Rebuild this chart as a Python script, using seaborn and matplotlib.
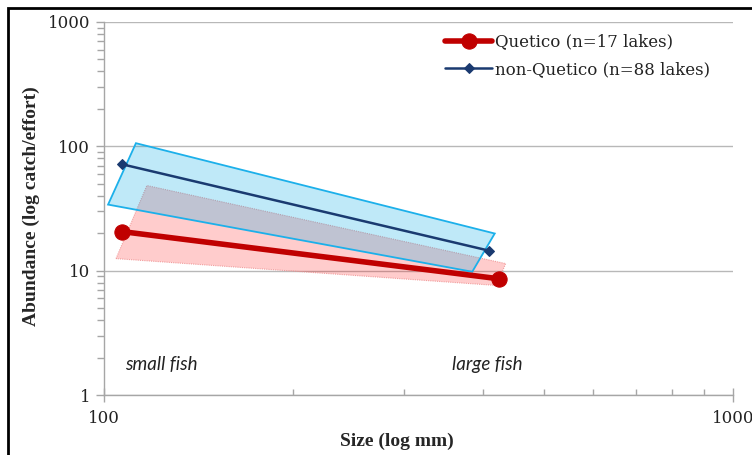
import numpy as np
import pandas as pd
import matplotlib
matplotlib.use("Agg")
import matplotlib.pyplot as plt
from matplotlib.patches import Polygon, Rectangle
from matplotlib.ticker import NullFormatter, LogLocator
import seaborn as sns

# ---- data ----
quetico_x = [107, 425]
quetico_y = [20.6, 8.6]
nonq_x = [107, 409]
nonq_y = [71.6, 14.5]

blue_band_x = [101.5, 112.4, 418, 385]
blue_band_y = [34, 106, 19.9, 9.8]
red_band_x = [104.5, 117, 435, 421]
red_band_y = [12.5, 48.4, 11.4, 7.6]

series_labels = ["Quetico (n=17 lakes)", "non-Quetico (n=88 lakes)"]
x_ticks = [100, 1000]
y_ticks = [1, 10, 100, 1000]

df = pd.DataFrame({
    "size": quetico_x + nonq_x,
    "abund": quetico_y + nonq_y,
    "group": [series_labels[0]] * 2 + [series_labels[1]] * 2,
})

sns.set_style("white")
serif = ["DejaVu Serif"]
plt.rcParams["font.family"] = serif

fig = plt.figure(figsize=(7.52, 4.55), dpi=100)
ax = fig.add_axes([104 / 752, 1 - 395 / 455, (733 - 104) / 752, (395 - 22) / 455])
ax.set_xscale("log")
ax.set_yscale("log")
ax.set_xlim(100, 1000)
ax.set_ylim(1, 1000)

# bands
ax.add_patch(Polygon(list(zip(red_band_x, red_band_y)), closed=True,
                     facecolor=(1, 0, 0, 0.2), edgecolor=(0.93, 0.55, 0.55, 0.8),
                     linewidth=0.8, linestyle=(0, (1, 1)), zorder=2))
ax.add_patch(Polygon(list(zip(blue_band_x, blue_band_y)), closed=True,
                     facecolor=(0.0, 0.67, 0.9, 0.25), edgecolor="#1cb0ea",
                     linewidth=1.3, zorder=3))

sns.lineplot(data=df[df.group == series_labels[0]], x="size", y="abund",
             color="#c00000", linewidth=4, marker="o", markersize=11,
             markeredgecolor="#c00000", ax=ax, label=series_labels[0], zorder=5)
sns.lineplot(data=df[df.group == series_labels[1]], x="size", y="abund",
             color="#1a3a70", linewidth=1.8, marker="D", markersize=5.5,
             markeredgecolor="#1a3a70", ax=ax, label=series_labels[1], zorder=6)

# grid & axes
ax.yaxis.grid(True, which="major", color="#b8b8b8", linewidth=1)
ax.xaxis.grid(False)
ax.set_axisbelow(True)
for s in ["top", "right"]:
    ax.spines[s].set_visible(False)
for s in ["left", "bottom"]:
    ax.spines[s].set_color("#a6a6a6")
    ax.spines[s].set_linewidth(1)

ax.set_xticks(x_ticks)
ax.set_xticklabels([str(v) for v in x_ticks])
ax.set_yticks(y_ticks)
ax.set_yticklabels([str(v) for v in y_ticks])
ax.xaxis.set_minor_locator(LogLocator(base=10, subs=np.arange(2, 10)))
ax.yaxis.set_minor_locator(LogLocator(base=10, subs=np.arange(2, 10)))
ax.xaxis.set_minor_formatter(NullFormatter())
ax.yaxis.set_minor_formatter(NullFormatter())
ax.tick_params(axis="y", which="major", direction="out", length=6, width=1,
               color="#a6a6a6", left=True, labelsize=12, pad=4, labelcolor="#222222")
ax.tick_params(axis="y", which="minor", direction="out", length=5, width=1,
               color="#a6a6a6", left=True)
ax.tick_params(axis="x", which="major", direction="inout", length=10, width=1,
               color="#a6a6a6", bottom=True, labelsize=12, pad=6, labelcolor="#222222")
ax.tick_params(axis="x", which="minor", direction="in", length=4, width=1,
               color="#a6a6a6", bottom=True)
ax.set_xlabel("")
ax.set_ylabel("")

# annotations
ax.text(108, 1.75, "small fish", style="italic", fontsize=13.5,
        family=["Lato", "DejaVu Sans"], va="center", ha="left", color="#222222")
ax.text(357, 1.75, "large fish", style="italic", fontsize=13.5,
        family=["Lato", "DejaVu Sans"], va="center", ha="left", color="#222222")

fig.text(397 / 752, 1 - 441 / 455, "Size (log mm)", ha="center", va="center",
         fontsize=14, fontweight="bold", family=["Liberation Serif", "DejaVu Serif"])
fig.text(31 / 752, 1 - 206 / 455, "Abundance (log catch/effort)", ha="center",
         va="center", rotation=90, fontsize=14, fontweight="bold",
         family=["Liberation Serif", "DejaVu Serif"])

leg = ax.legend(loc="upper right", bbox_to_anchor=(0.975, 0.987), frameon=False,
                borderaxespad=0, fontsize=12, handlelength=2.8, handletextpad=0.2,
                labelspacing=0.62)
for t in leg.get_texts():
    t.set_color("#222222")

# outer frame (left/top visible, right/bottom cut off)
fig.patches.append(Rectangle((8 / 752, -0.2), 1.2, 1 - 8 / 455 + 0.2,
                             transform=fig.transFigure, fill=False,
                             edgecolor="black", linewidth=2, zorder=10))

fig.savefig("out.png", dpi=100)
